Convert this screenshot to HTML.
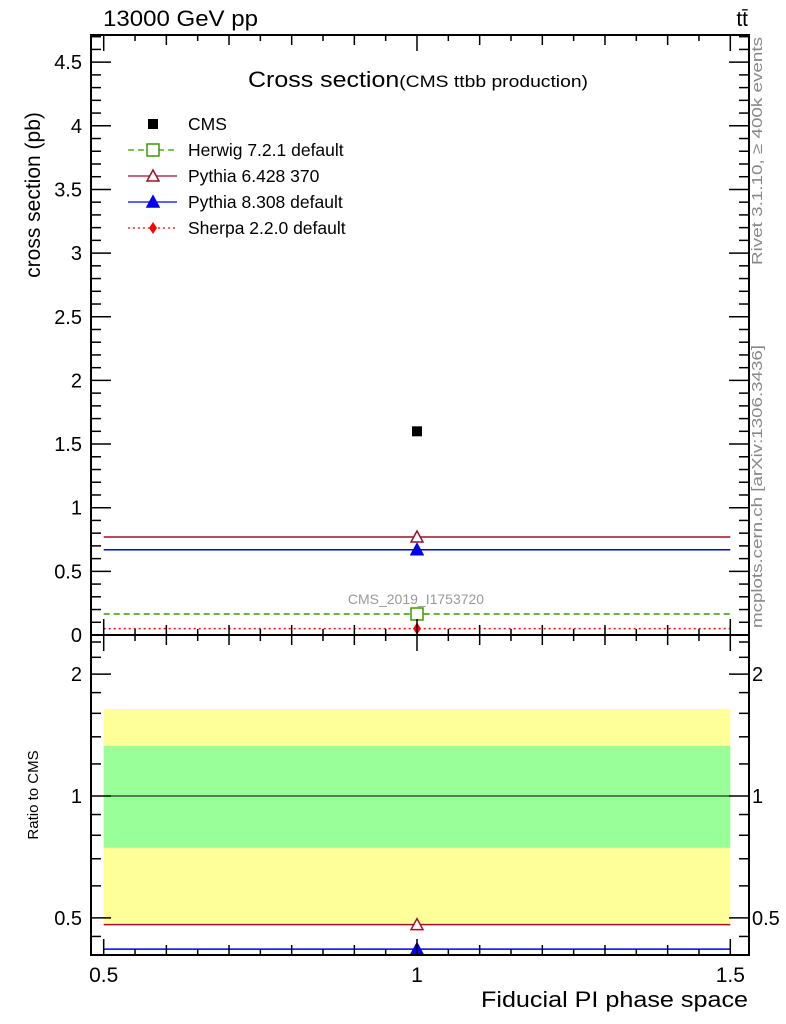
<!DOCTYPE html>
<html><head><meta charset="utf-8"><style>
body{margin:0;background:#fff;}
svg{display:block;font-family:"Liberation Sans",sans-serif;}
</style></head><body>
<svg id="c" width="786" height="1024" viewBox="0 0 786 1024" xmlns="http://www.w3.org/2000/svg">
<text x="103" y="26" font-size="22" textLength="155" lengthAdjust="spacingAndGlyphs">13000 GeV pp</text>
<text x="748" y="26" font-size="21" text-anchor="end">tt̄</text>
<text x="248" y="87" font-size="22" textLength="340" lengthAdjust="spacingAndGlyphs">Cross section<tspan font-size="17">(CMS ttbb production)</tspan></text>
<text transform="translate(40,195) rotate(-90)" font-size="21" text-anchor="middle">cross section (pb)</text>
<text transform="translate(38,795) rotate(-90)" font-size="15" text-anchor="middle">Ratio to CMS</text>
<text x="481" y="1007" font-size="22" textLength="267" lengthAdjust="spacingAndGlyphs">Fiducial PI phase space</text>
<text transform="translate(762,265) rotate(-90)" font-size="15" fill="#888" textLength="228" lengthAdjust="spacingAndGlyphs">Rivet 3.1.10, ≥ 400k events</text>
<text transform="translate(762,628) rotate(-90)" font-size="15" fill="#888" textLength="283" lengthAdjust="spacingAndGlyphs">mcplots.cern.ch [arXiv:1306.3436]</text>
<text x="416" y="604" font-size="14" fill="#999" text-anchor="middle">CMS_2019_I1753720</text>
<g id="g"></g>
</svg>
<script>
const categories = [1.0];
const binLow = [0.5];
const binHigh = [1.5];
const cmsValue = [1.6];
const herwig = [0.165];
const pythia6 = [0.77];
const pythia8 = [0.67];
const sherpa = [0.05];
const bandInner = [0.745, 1.33];
const bandOuter = [0.48, 1.64];
const yTicks = [0, 0.5, 1, 1.5, 2, 2.5, 3, 3.5, 4, 4.5];
const yTickLabels = ["0", "0.5", "1", "1.5", "2", "2.5", "3", "3.5", "4", "4.5"];
const rTicks = [0.5, 1, 2];
const rTickLabels = ["0.5", "1", "2"];
const xTicks = [0.5, 1, 1.5];
const xTickLabels = ["0.5", "1", "1.5"];

const NS = "http://www.w3.org/2000/svg";
const g = document.getElementById('g');
const L = 91, R = 749, T = 35, M = 635, B = 955;
const x = v => 103.7 + (v - 0.5) * 626.6;
const y = v => 635 - v * 127.3;
const ry = v => 796 - Math.log10(v) * 405;
function el(tag, attrs, name, parent) {
  const e = document.createElementNS(NS, tag);
  for (const k in attrs) e.setAttribute(k, attrs[k]);
  
  
  (parent || g).appendChild(e);
  return e;
}
el('rect', {x: x(binLow[0]), y: ry(bandOuter[1]), width: x(binHigh[0]) - x(binLow[0]), height: ry(bandOuter[0]) - ry(bandOuter[1]), fill: '#ffff99'}, 'ratio-band-outer');
el('rect', {x: x(binLow[0]), y: ry(bandInner[1]), width: x(binHigh[0]) - x(binLow[0]), height: ry(bandInner[0]) - ry(bandInner[1]), fill: '#99ff99'}, 'ratio-band-inner');
el('line', {x1: x(binLow[0]), x2: x(binHigh[0]), y1: ry(1), y2: ry(1), stroke: '#000', 'stroke-width': 1}, 'ratio-reference-line');

function tri(cx, cy, fill, stroke, name) {
  el('polygon', {points: `${cx - 6},${cy + 5} ${cx + 6},${cy + 5} ${cx},${cy - 6}`, fill: fill, stroke: stroke, 'stroke-width': 1.5}, name);
}
const series = [
  {v: herwig, c: '#3a9a00', dash: '6,4', mk: 'sq', n: 'herwig'},
  {v: pythia6, c: '#a0102a', dash: '', mk: 'otri', n: 'pythia6'},
  {v: pythia8, c: '#0000ee', dash: '', mk: 'tri', n: 'pythia8'},
  {v: sherpa, c: '#ff0000', dash: '2,3', mk: 'dia', n: 'sherpa'}
];
function marker(s, cx, cy, name) {
  if (s.mk === 'sq') el('rect', {x: cx - 6, y: cy - 6, width: 12, height: 12, fill: '#fff', stroke: s.c, 'stroke-width': 1.5}, name);
  else if (s.mk === 'otri') tri(cx, cy, '#fff', s.c, name);
  else if (s.mk === 'tri') tri(cx, cy, s.c, s.c, name);
  else el('polygon', {points: `${cx},${cy - 6} ${cx + 4},${cy} ${cx},${cy + 6} ${cx - 4},${cy}`, fill: s.c}, name);
}
series.forEach(s => {
  categories.forEach((c, i) => {
    const yy = y(s.v[i]);
    if (yy < M) {
      el('line', {x1: x(binLow[i]), x2: x(binHigh[i]), y1: yy, y2: yy, stroke: s.c, 'stroke-width': 1.5, 'stroke-dasharray': s.dash}, s.n + '-line');
      marker(s, x(c), yy, s.n + '-marker');
    }
    const r = s.v[i] / cmsValue[i];
    const rr = ry(r);
    if (rr > M && rr < B) {
      el('line', {x1: x(binLow[i]), x2: x(binHigh[i]), y1: rr, y2: rr, stroke: s.c, 'stroke-width': 1.5, 'stroke-dasharray': s.dash}, s.n + '-ratio-line');
      marker(s, x(c), rr, s.n + '-ratio-marker');
    }
  });
});
categories.forEach((c, i) => {
  el('rect', {x: x(c) - 5, y: y(cmsValue[i]) - 5, width: 10, height: 10, fill: '#000'}, 'cms-point');
});
const leg = [
  {n: 'CMS', s: null}, {n: 'Herwig 7.2.1 default', s: series[0]}, {n: 'Pythia 6.428 370', s: series[1]},
  {n: 'Pythia 8.308 default', s: series[2]}, {n: 'Sherpa 2.2.0 default', s: series[3]}
];
leg.forEach((e, i) => {
  const ly = 124 + i * 26;
  if (!e.s) el('rect', {x: 148, y: ly - 5, width: 10, height: 10, fill: '#000'}, 'legend-cms-marker');
  else {
    el('line', {x1: 128, x2: 177, y1: ly, y2: ly, stroke: e.s.c, 'stroke-width': 1.2, 'stroke-dasharray': e.s.dash}, 'legend-line');
    marker(e.s, 153, ly, 'legend-marker');
  }
  const t = el('text', {x: 188, y: ly + 6, 'font-size': 17.5}, 'legend-entry');
  t.textContent = e.n;
});
el('rect', {x: L, y: T, width: R - L, height: M - T, fill: 'none', stroke: '#000', 'stroke-width': 2}, 'main-frame');
el('rect', {x: L, y: M, width: R - L, height: B - M, fill: 'none', stroke: '#000', 'stroke-width': 2}, 'ratio-frame');
for (let k = 0; k <= 47; k++) {
  const v = k / 10, yy = y(v);
  if (yy < T) break;
  const maj = k % 5 === 0, len = maj ? 20 : 10;
  el('line', {x1: L, x2: L + len, y1: yy, y2: yy, stroke: '#000', 'stroke-width': 1.5}, 'y-tick');
  el('line', {x1: R, x2: R - len, y1: yy, y2: yy, stroke: '#000', 'stroke-width': 1.5}, 'y-tick-right');
}
yTicks.forEach((v, i) => {
  const t = el('text', {x: 82, y: y(v) + 7, 'font-size': 20, 'text-anchor': 'end'}, 'y-tick-label');
  t.textContent = yTickLabels[i];
});
const rMinor = [0.5, 0.6, 0.7, 0.8, 0.9, 1, 2, 0.45, 1.2, 1.4, 1.6, 1.8, 2.2, 2.4];
rMinor.forEach(v => {
  const yy = ry(v);
  if (yy < M || yy > B) return;
  const maj = rTicks.includes(v), len = maj ? 20 : 10;
  el('line', {x1: L, x2: L + len, y1: yy, y2: yy, stroke: '#000', 'stroke-width': 1.5}, 'ratio-tick');
  el('line', {x1: R, x2: R - len, y1: yy, y2: yy, stroke: '#000', 'stroke-width': 1.5}, 'ratio-tick-right');
});
rTicks.forEach((v, i) => {
  const t1 = el('text', {x: 82, y: ry(v) + 7, 'font-size': 20, 'text-anchor': 'end'}, 'ratio-tick-label');
  t1.textContent = rTickLabels[i];
  const t2 = el('text', {x: 752, y: ry(v) + 7, 'font-size': 20}, 'ratio-tick-label-right');
  t2.textContent = rTickLabels[i];
});
for (let k = 9; k <= 31; k++) {
  const v = k / 20, xx = x(v);
  if (xx < L || xx > R) continue;
  const maj = k % 10 === 0;
  const len = maj ? 16 : (k % 2 === 0 ? 10 : 6);
  [T, M, B].forEach(b => {
    const dir = b === T ? 1 : -1;
    el('line', {x1: xx, x2: xx, y1: b, y2: b + dir * len, stroke: '#000', 'stroke-width': 1.5}, 'x-tick');
  });
  el('line', {x1: xx, x2: xx, y1: M, y2: M + len, stroke: '#000', 'stroke-width': 1.5}, 'x-tick');
}
xTicks.forEach((v, i) => {
  const t = el('text', {x: x(v), y: 982, 'font-size': 21, 'text-anchor': 'middle'}, 'x-tick-label');
  t.textContent = xTickLabels[i];
});
</script>
</body></html>
